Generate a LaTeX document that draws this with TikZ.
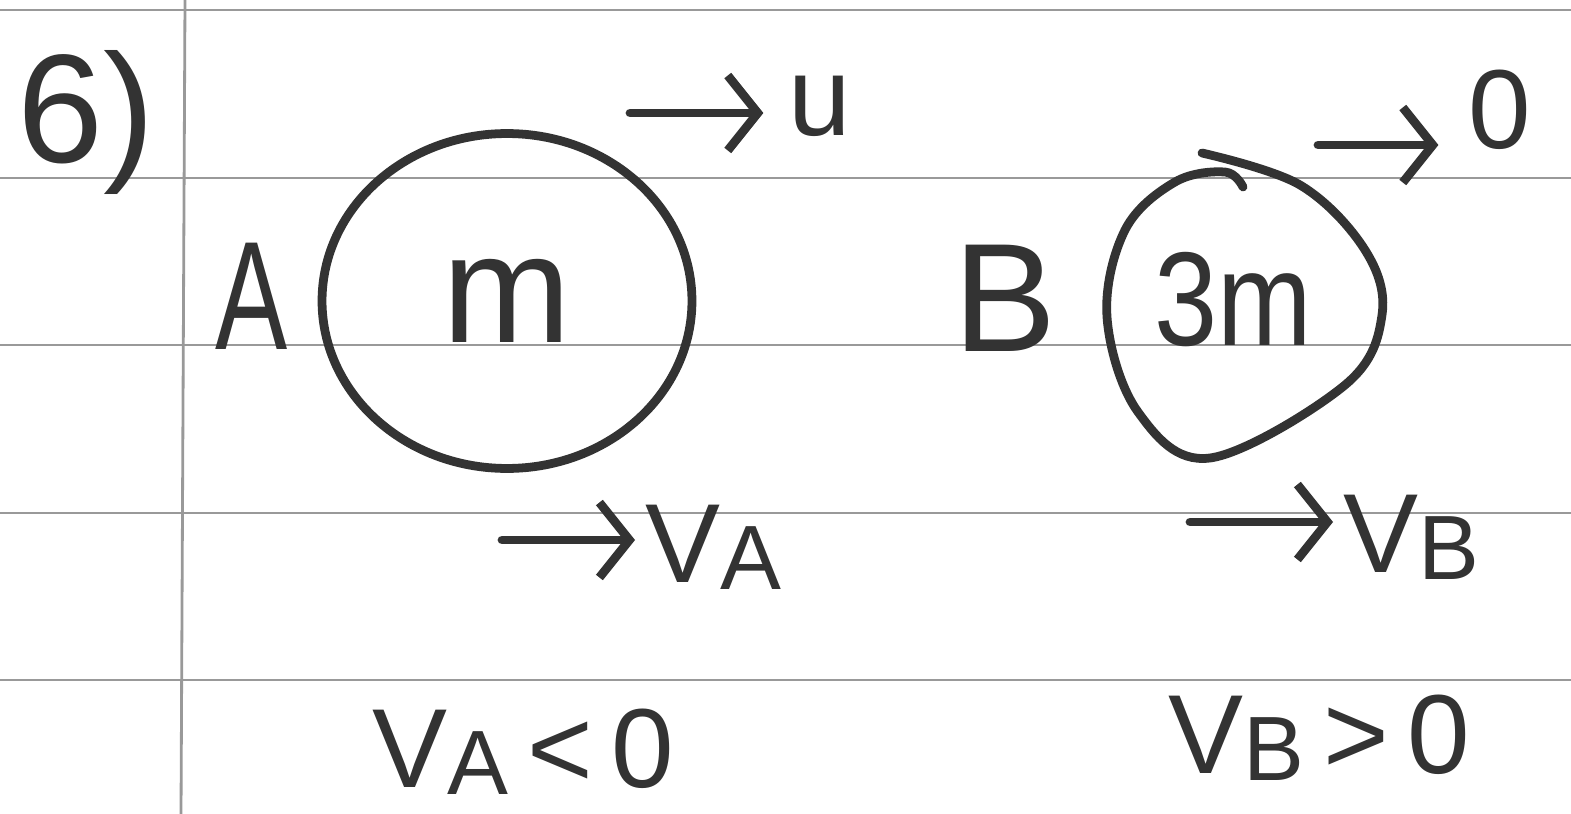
\documentclass[tikz,border=0pt]{standalone}
\usepackage{fontspec}
\setmainfont{Liberation Sans}
\usetikzlibrary{arrows.meta,shapes.geometric}

\begin{document}
\begin{tikzpicture}[
        x=0.02cm, y=-0.02cm,
        rule/.style={draw=black!40, line width=1pt},
        pen/.style={draw=black!80, line width=5pt, line cap=round, line join=round},
        big/.style={font=\fontsize{88}{88}\selectfont, text=black!80, inner sep=0pt},
        mid/.style={font=\fontsize{64}{64}\selectfont, text=black!80, inner sep=0pt},
        ball/.style={pen, ellipse, minimum width=7.4cm, minimum height=6.7cm, inner sep=0pt},
        arr/.style={pen, -{Straight Barb[length=6mm, width=15mm]}}
    ]
        \fill[white] (0,0) rectangle (1571,814);
        \useasboundingbox (0,0) rectangle (1571,814);

        % ruled paper
        \foreach \y in {10,178,345,513,680}
            \draw[rule] (0,\y) -- (1571,\y);
        \draw[rule, line width=1.6pt] (185,0) -- (181,814);

        % question number
        \node[big] (qnum) at (86,122) {6)};

        % ball A
        \node[big] (labA) at (252,296) {\scalebox{0.7}[1]{A}};
        \node[ball, big] (ballA) at (507,301) {m};

        % ball B
        \node[big] (labB) at (1005,298) {B};
        \draw[pen] plot[smooth, tension=0.6] coordinates {(1202,153) (1300,185) (1365,250) (1382,315) (1345,385) (1210,458) (1138,412) (1107,317) (1125,230) (1175,182) (1225,172) (1243,187)};
        \node[big, font=\fontsize{76}{76}\selectfont] (massB) at (1233,300) {\scalebox{0.85}[1]{3m}};

        % velocities before
        \node[mid] (u) at (820,106) {u};
        \coordinate (ustart) at (630,113);
        \draw[arr] (ustart) -- ([xshift=-0.5cm]ustart -| u.west);

        \node[mid] (zero) at (1500,110) {0};
        \coordinate (zstart) at (1318,145);
        \draw[arr] (zstart) -- ([xshift=-0.6cm]zstart -| zero.west);

        % velocities after
        \node[mid, anchor=west] (vA) at (645,547) {V\raisebox{-4pt}{\fontsize{52}{52}\selectfont A}};
        \coordinate (vAstart) at (502,540);
        \draw[arr] (vAstart) -- ([xshift=-0.2cm]vAstart -| vA.west);

        \node[mid, anchor=west] (vB) at (1343,537) {V\raisebox{-4pt}{\fontsize{52}{52}\selectfont B}};
        \coordinate (vBstart) at (1190,522);
        \draw[arr] (vBstart) -- ([xshift=-0.2cm]vBstart -| vB.west);

        % results
        \node[mid, anchor=west] (resA) at (372,752) {V\raisebox{-4pt}{\fontsize{52}{52}\selectfont A}\,<\,0};
        \node[mid, anchor=west] (resB) at (1168,738) {V\raisebox{-4pt}{\fontsize{52}{52}\selectfont B}\,>\,0};
    \end{tikzpicture}
\end{document}
